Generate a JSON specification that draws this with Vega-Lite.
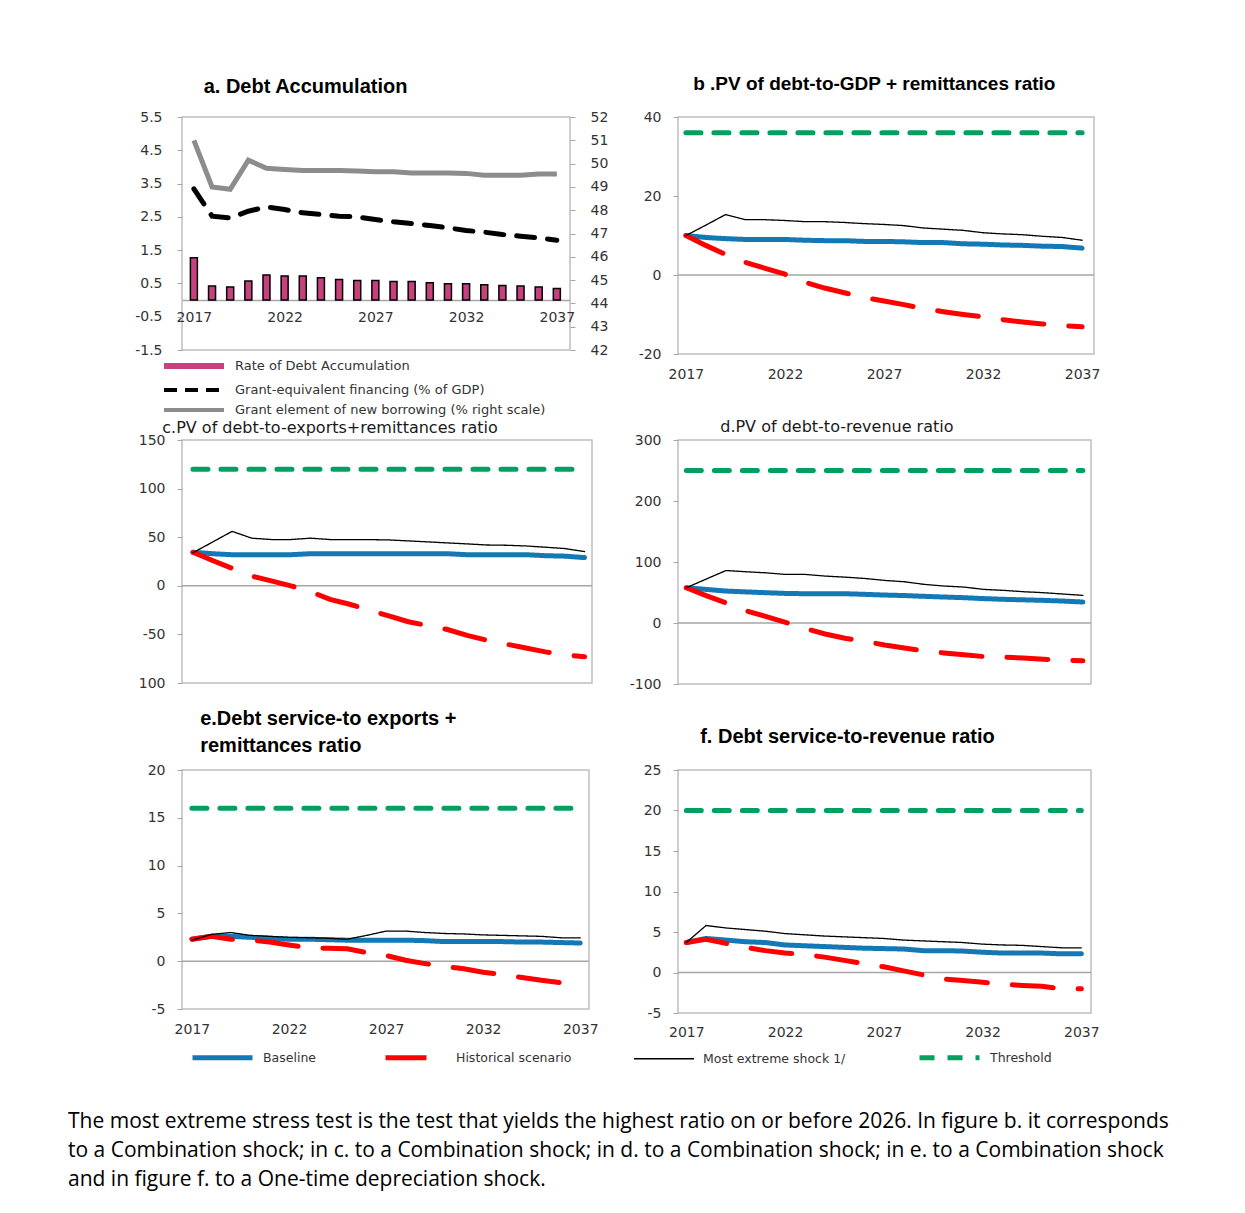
{
  "$schema": "https://vega.github.io/schema/vega-lite/v6.json",
  "background": "white",
  "padding": {"left": 68, "top": 74, "right": 0, "bottom": 12},
  "autosize": {"type": "pad"},
  "columns": 2,
  "spacing": {"row": 86, "column": 86},
  "bounds": "flush",
  "align": "each",
  "resolve": {
    "scale": {"color": "independent", "strokeDash": "independent", "strokeWidth": "independent"},
    "legend": {"color": "independent", "strokeDash": "independent", "strokeWidth": "independent"}
  },
  "title": {
    "text": [
      "The most extreme stress test is the test that yields the highest ratio on or before 2026. In figure b. it corresponds",
      "to a Combination shock; in c. to a Combination shock; in d. to a Combination shock; in e. to a Combination shock",
      "and in figure f. to a One-time depreciation shock."
    ],
    "orient": "bottom", "anchor": "start", "frame": "group", "dx": -114, "offset": 42,
    "font": "Open Sans", "fontSize": 21, "fontWeight": "normal", "lineHeight": 29, "color": "black", "baseline": "top"
  },
  "datasets": {
    "a": [
      {"year": 2017, "rate": 1.27, "gef": 3.34, "ge": 51.0},
      {"year": 2018, "rate": 0.42, "gef": 2.52, "ge": 49.0},
      {"year": 2019, "rate": 0.39, "gef": 2.47, "ge": 48.9},
      {"year": 2020, "rate": 0.57, "gef": 2.67, "ge": 50.15},
      {"year": 2021, "rate": 0.75, "gef": 2.80, "ge": 49.8},
      {"year": 2022, "rate": 0.72, "gef": 2.72, "ge": 49.75},
      {"year": 2023, "rate": 0.72, "gef": 2.62, "ge": 49.7},
      {"year": 2024, "rate": 0.67, "gef": 2.57, "ge": 49.7},
      {"year": 2025, "rate": 0.62, "gef": 2.52, "ge": 49.7},
      {"year": 2026, "rate": 0.59, "gef": 2.50, "ge": 49.68},
      {"year": 2027, "rate": 0.59, "gef": 2.42, "ge": 49.65},
      {"year": 2028, "rate": 0.56, "gef": 2.35, "ge": 49.65},
      {"year": 2029, "rate": 0.56, "gef": 2.30, "ge": 49.6},
      {"year": 2030, "rate": 0.52, "gef": 2.24, "ge": 49.6},
      {"year": 2031, "rate": 0.49, "gef": 2.17, "ge": 49.6},
      {"year": 2032, "rate": 0.49, "gef": 2.09, "ge": 49.58},
      {"year": 2033, "rate": 0.46, "gef": 2.04, "ge": 49.5},
      {"year": 2034, "rate": 0.44, "gef": 1.97, "ge": 49.5},
      {"year": 2035, "rate": 0.42, "gef": 1.92, "ge": 49.5},
      {"year": 2036, "rate": 0.39, "gef": 1.87, "ge": 49.55},
      {"year": 2037, "rate": 0.35, "gef": 1.80, "ge": 49.55}
    ],
    "b": [
      {"year": 2017, "bl": 10.0, "hs": 10.0, "me": 10.0, "th": 36},
      {"year": 2018, "bl": 9.5, "hs": 7.5, "me": 12.6, "th": 36},
      {"year": 2019, "bl": 9.2, "hs": 5.2, "me": 15.3, "th": 36},
      {"year": 2020, "bl": 9.0, "hs": 3.2, "me": 14.0, "th": 36},
      {"year": 2021, "bl": 9.0, "hs": 1.7, "me": 14.0, "th": 36},
      {"year": 2022, "bl": 9.0, "hs": 0.2, "me": 13.8, "th": 36},
      {"year": 2023, "bl": 8.8, "hs": -1.8, "me": 13.5, "th": 36},
      {"year": 2024, "bl": 8.7, "hs": -3.3, "me": 13.5, "th": 36},
      {"year": 2025, "bl": 8.7, "hs": -4.5, "me": 13.3, "th": 36},
      {"year": 2026, "bl": 8.5, "hs": -5.7, "me": 13.0, "th": 36},
      {"year": 2027, "bl": 8.5, "hs": -6.6, "me": 12.8, "th": 36},
      {"year": 2028, "bl": 8.4, "hs": -7.5, "me": 12.5, "th": 36},
      {"year": 2029, "bl": 8.2, "hs": -8.5, "me": 11.9, "th": 36},
      {"year": 2030, "bl": 8.2, "hs": -9.3, "me": 11.6, "th": 36},
      {"year": 2031, "bl": 7.9, "hs": -10.0, "me": 11.3, "th": 36},
      {"year": 2032, "bl": 7.8, "hs": -10.6, "me": 10.7, "th": 36},
      {"year": 2033, "bl": 7.6, "hs": -11.3, "me": 10.4, "th": 36},
      {"year": 2034, "bl": 7.5, "hs": -11.9, "me": 10.2, "th": 36},
      {"year": 2035, "bl": 7.3, "hs": -12.4, "me": 9.8, "th": 36},
      {"year": 2036, "bl": 7.2, "hs": -12.8, "me": 9.5, "th": 36},
      {"year": 2037, "bl": 6.8, "hs": -13.1, "me": 8.8, "th": 36}
    ],
    "c": [
      {"year": 2017, "bl": 34.5, "hs": 34.5, "me": 34.0, "th": 120},
      {"year": 2018, "bl": 33.0, "hs": 26.0, "me": 45.0, "th": 120},
      {"year": 2019, "bl": 32.0, "hs": 18.0, "me": 56.0, "th": 120},
      {"year": 2020, "bl": 32.0, "hs": 10.0, "me": 49.0, "th": 120},
      {"year": 2021, "bl": 32.0, "hs": 5.0, "me": 47.6, "th": 120},
      {"year": 2022, "bl": 32.0, "hs": 0.0, "me": 47.6, "th": 120},
      {"year": 2023, "bl": 33.0, "hs": -6.0, "me": 49.0, "th": 120},
      {"year": 2024, "bl": 33.0, "hs": -14.0, "me": 47.6, "th": 120},
      {"year": 2025, "bl": 33.0, "hs": -19.0, "me": 47.6, "th": 120},
      {"year": 2026, "bl": 33.0, "hs": -25.0, "me": 47.5, "th": 120},
      {"year": 2027, "bl": 33.0, "hs": -31.0, "me": 47.2, "th": 120},
      {"year": 2028, "bl": 33.0, "hs": -37.0, "me": 46.2, "th": 120},
      {"year": 2029, "bl": 33.0, "hs": -41.0, "me": 45.2, "th": 120},
      {"year": 2030, "bl": 33.0, "hs": -45.0, "me": 44.1, "th": 120},
      {"year": 2031, "bl": 32.0, "hs": -51.0, "me": 43.1, "th": 120},
      {"year": 2032, "bl": 32.0, "hs": -56.0, "me": 42.0, "th": 120},
      {"year": 2033, "bl": 32.0, "hs": -60.0, "me": 41.7, "th": 120},
      {"year": 2034, "bl": 32.0, "hs": -64.0, "me": 41.0, "th": 120},
      {"year": 2035, "bl": 31.0, "hs": -68.0, "me": 39.7, "th": 120},
      {"year": 2036, "bl": 30.5, "hs": -71.0, "me": 38.3, "th": 120},
      {"year": 2037, "bl": 29.0, "hs": -73.0, "me": 35.2, "th": 120}
    ],
    "d": [
      {"year": 2017, "bl": 57.8, "hs": 57.8, "me": 57.8, "th": 250},
      {"year": 2018, "bl": 55.0, "hs": 45.0, "me": 72.0, "th": 250},
      {"year": 2019, "bl": 52.4, "hs": 33.0, "me": 86.0, "th": 250},
      {"year": 2020, "bl": 51.0, "hs": 20.0, "me": 84.0, "th": 250},
      {"year": 2021, "bl": 49.7, "hs": 11.0, "me": 82.3, "th": 250},
      {"year": 2022, "bl": 48.5, "hs": 1.0, "me": 79.6, "th": 250},
      {"year": 2023, "bl": 48.0, "hs": -9.0, "me": 79.6, "th": 250},
      {"year": 2024, "bl": 48.0, "hs": -18.0, "me": 76.9, "th": 250},
      {"year": 2025, "bl": 48.0, "hs": -25.0, "me": 75.2, "th": 250},
      {"year": 2026, "bl": 47.0, "hs": -30.0, "me": 73.0, "th": 250},
      {"year": 2027, "bl": 45.8, "hs": -36.0, "me": 69.8, "th": 250},
      {"year": 2028, "bl": 45.0, "hs": -41.0, "me": 67.6, "th": 250},
      {"year": 2029, "bl": 43.7, "hs": -46.0, "me": 63.3, "th": 250},
      {"year": 2030, "bl": 42.6, "hs": -49.0, "me": 60.6, "th": 250},
      {"year": 2031, "bl": 41.5, "hs": -52.0, "me": 58.9, "th": 250},
      {"year": 2032, "bl": 40.0, "hs": -55.0, "me": 55.1, "th": 250},
      {"year": 2033, "bl": 38.8, "hs": -56.0, "me": 53.5, "th": 250},
      {"year": 2034, "bl": 38.0, "hs": -57.5, "me": 51.3, "th": 250},
      {"year": 2035, "bl": 37.1, "hs": -59.5, "me": 49.7, "th": 250},
      {"year": 2036, "bl": 36.0, "hs": -61.0, "me": 47.5, "th": 250},
      {"year": 2037, "bl": 34.4, "hs": -62.0, "me": 45.3, "th": 250}
    ],
    "e": [
      {"year": 2017, "bl": 2.3, "hs": 2.3, "me": 2.2, "th": 16},
      {"year": 2018, "bl": 2.6, "hs": 2.6, "me": 2.8, "th": 16},
      {"year": 2019, "bl": 2.6, "hs": 2.3, "me": 3.0, "th": 16},
      {"year": 2020, "bl": 2.5, "hs": 2.2, "me": 2.7, "th": 16},
      {"year": 2021, "bl": 2.4, "hs": 2.0, "me": 2.6, "th": 16},
      {"year": 2022, "bl": 2.3, "hs": 1.7, "me": 2.5, "th": 16},
      {"year": 2023, "bl": 2.3, "hs": 1.4, "me": 2.45, "th": 16},
      {"year": 2024, "bl": 2.25, "hs": 1.35, "me": 2.4, "th": 16},
      {"year": 2025, "bl": 2.2, "hs": 1.3, "me": 2.3, "th": 16},
      {"year": 2026, "bl": 2.2, "hs": 0.9, "me": 2.7, "th": 16},
      {"year": 2027, "bl": 2.2, "hs": 0.6, "me": 3.15, "th": 16},
      {"year": 2028, "bl": 2.2, "hs": 0.1, "me": 3.15, "th": 16},
      {"year": 2029, "bl": 2.15, "hs": -0.25, "me": 3.0, "th": 16},
      {"year": 2030, "bl": 2.05, "hs": -0.55, "me": 2.9, "th": 16},
      {"year": 2031, "bl": 2.05, "hs": -0.8, "me": 2.85, "th": 16},
      {"year": 2032, "bl": 2.05, "hs": -1.15, "me": 2.75, "th": 16},
      {"year": 2033, "bl": 2.05, "hs": -1.4, "me": 2.7, "th": 16},
      {"year": 2034, "bl": 2.0, "hs": -1.7, "me": 2.65, "th": 16},
      {"year": 2035, "bl": 2.0, "hs": -2.0, "me": 2.6, "th": 16},
      {"year": 2036, "bl": 1.95, "hs": -2.25, "me": 2.45, "th": 16},
      {"year": 2037, "bl": 1.9, "hs": -2.5, "me": 2.45, "th": 16}
    ],
    "f": [
      {"year": 2017, "bl": 3.7, "hs": 3.7, "me": 3.7, "th": 20},
      {"year": 2018, "bl": 4.2, "hs": 4.1, "me": 5.8, "th": 20},
      {"year": 2019, "bl": 4.0, "hs": 3.6, "me": 5.5, "th": 20},
      {"year": 2020, "bl": 3.8, "hs": 3.1, "me": 5.3, "th": 20},
      {"year": 2021, "bl": 3.7, "hs": 2.7, "me": 5.1, "th": 20},
      {"year": 2022, "bl": 3.4, "hs": 2.4, "me": 4.8, "th": 20},
      {"year": 2023, "bl": 3.3, "hs": 2.2, "me": 4.65, "th": 20},
      {"year": 2024, "bl": 3.2, "hs": 1.9, "me": 4.5, "th": 20},
      {"year": 2025, "bl": 3.1, "hs": 1.5, "me": 4.4, "th": 20},
      {"year": 2026, "bl": 3.0, "hs": 1.1, "me": 4.3, "th": 20},
      {"year": 2027, "bl": 2.95, "hs": 0.7, "me": 4.2, "th": 20},
      {"year": 2028, "bl": 2.9, "hs": 0.2, "me": 4.0, "th": 20},
      {"year": 2029, "bl": 2.7, "hs": -0.3, "me": 3.9, "th": 20},
      {"year": 2030, "bl": 2.7, "hs": -0.8, "me": 3.8, "th": 20},
      {"year": 2031, "bl": 2.65, "hs": -1.0, "me": 3.7, "th": 20},
      {"year": 2032, "bl": 2.5, "hs": -1.2, "me": 3.5, "th": 20},
      {"year": 2033, "bl": 2.4, "hs": -1.45, "me": 3.4, "th": 20},
      {"year": 2034, "bl": 2.4, "hs": -1.6, "me": 3.35, "th": 20},
      {"year": 2035, "bl": 2.4, "hs": -1.7, "me": 3.2, "th": 20},
      {"year": 2036, "bl": 2.3, "hs": -2.0, "me": 3.05, "th": 20},
      {"year": 2037, "bl": 2.3, "hs": -2.0, "me": 3.05, "th": 20}
    ],
    "zero": [{"zero": 0}]
  },
  "concat": [
    {
      "width": 388, "height": 233,
      "data": {"name": "a"},
      "title": {"text": "a. Debt Accumulation", "anchor": "start", "dx": 69, "offset": -3, "baseline": "alphabetic", "font": "Liberation Sans", "fontSize": 20, "fontWeight": "bold", "color": "black"},
      "encoding": {
        "x": {"field": "year", "type": "quantitative", "scale": {"domain": [2016.62, 2037.45], "nice": false, "zero": false},
          "axis": {"values": [2017, 2022, 2027, 2032, 2037], "format": "d", "offset": -50, "domain": true, "domainColor": "#a6a6a6", "domainWidth": 1.5, "ticks": false, "labelPadding": 10, "title": null}}
      },
      "layer": [
        {
          "mark": {"type": "bar", "width": 7, "fill": "#c8417f", "stroke": "black", "strokeWidth": 1.5},
          "encoding": {
            "y": {"field": "rate", "type": "quantitative", "scale": {"domain": [-1.5, 5.5], "nice": false},
              "axis": {"values": [5.5, 4.5, 3.5, 2.5, 1.5, 0.5, -0.5, -1.5], "labelExpr": "'' + datum.value", "title": null, "labelPadding": 15}}
          }
        },
        {
          "mark": {"type": "line", "strokeCap": "round", "strokeDash": [18, 13], "strokeWidth": 5, "color": "#000000"},
          "encoding": {
            "y": {"field": "gef", "type": "quantitative", "scale": {"domain": [-1.5, 5.5], "nice": false}, "axis": null}
          }
        },
        {
          "mark": {"type": "line", "strokeWidth": 5, "color": "#8c8c8c"},
          "encoding": {
            "y": {"field": "ge", "type": "quantitative", "scale": {"domain": [42, 52], "nice": false},
              "axis": {"orient": "right", "values": [42, 43, 44, 45, 46, 47, 48, 49, 50, 51, 52], "title": null, "labelPadding": 15}}
          }
        },
        {
          "transform": [{"fold": ["rate", "gef", "ge"], "as": ["series", "value"]}],
          "mark": {"type": "line", "opacity": 0},
          "encoding": {
            "y": {"field": "value", "type": "quantitative", "scale": {"zero": false}, "axis": null},
            "color": {"field": "series", "type": "nominal", "scale": {"domain": ["rate", "gef", "ge"], "range": ["#c8417f", "#000000", "#8c8c8c"]},
              "legend": {"orient": "none", "legendX": -1, "legendY": 236, "title": null, "symbolType": "M-3,0H3", "symbolSize": 400, "symbolOpacity": 1, "labelFont": "DejaVu Sans", "labelFontSize": 13, "labelColor": "#333333", "labelOffset": 28, "rowPadding": -6, "labelLimit": 500,
                "labelExpr": "datum.label == 'rate' ? 'Rate of Debt Accumulation' : datum.label == 'gef' ? 'Grant-equivalent financing (% of GDP)' : 'Grant element of new borrowing (% right scale)'"}},
            "strokeDash": {"field": "series", "type": "nominal", "scale": {"domain": ["rate", "gef", "ge"], "range": [[1, 0], [13, 8], [1, 0]]},
              "legend": {"orient": "none", "legendX": -1, "legendY": 236, "title": null, "symbolType": "M-3,0H3", "symbolSize": 400, "symbolOpacity": 1, "labelFont": "DejaVu Sans", "labelFontSize": 13, "labelColor": "#333333", "labelOffset": 28, "rowPadding": -6, "labelLimit": 500,
                "labelExpr": "datum.label == 'rate' ? 'Rate of Debt Accumulation' : datum.label == 'gef' ? 'Grant-equivalent financing (% of GDP)' : 'Grant element of new borrowing (% right scale)'"}},
            "strokeWidth": {"field": "series", "type": "nominal", "scale": {"type": "ordinal", "domain": ["rate", "gef", "ge"], "range": [6, 4, 4]},
              "legend": {"orient": "none", "legendX": -1, "legendY": 236, "title": null, "symbolType": "M-3,0H3", "symbolSize": 400, "symbolOpacity": 1, "labelFont": "DejaVu Sans", "labelFontSize": 13, "labelColor": "#333333", "labelOffset": 28, "rowPadding": -6, "labelLimit": 500,
                "labelExpr": "datum.label == 'rate' ? 'Rate of Debt Accumulation' : datum.label == 'gef' ? 'Grant-equivalent financing (% of GDP)' : 'Grant element of new borrowing (% right scale)'"}}
          }
        }
      ],
      "resolve": {"scale": {"y": "independent"}}
    },
    {
      "width": 416, "height": 237,
      "title": {"text": "b .PV of debt-to-GDP + remittances ratio", "anchor": "start", "dx": 55, "offset": 1, "baseline": "alphabetic", "font": "Liberation Sans", "fontSize": 19, "fontWeight": "bold", "color": "black"},
      "layer": [
        {"data": {"name": "zero"}, "mark": {"type": "rule", "color": "#a6a6a6", "strokeWidth": 1.5}, "encoding": {"y": {"field": "zero", "type": "quantitative"}}},
        {
          "data": {"name": "b"},
          "transform": [{"fold": ["bl", "hs", "me", "th"], "as": ["series", "value"]}],
          "mark": {"type": "line", "strokeCap": "round"},
          "encoding": {
            "x": {"field": "year", "type": "quantitative", "scale": {"domain": [2016.6, 2037.6], "nice": false, "zero": false},
              "axis": {"values": [2017, 2022, 2027, 2032, 2037], "format": "d", "ticks": false, "labelPadding": 13, "title": null}},
            "y": {"field": "value", "type": "quantitative", "scale": {"domain": [-20, 40], "nice": false},
              "axis": {"values": [-20, -10, 0, 10, 20, 30, 40], "labelExpr": "'' + datum.value", "title": null}},
            "color": {"field": "series", "type": "nominal", "scale": {"domain": ["bl", "hs", "me", "th"], "range": ["#1478b4", "#ff0000", "#000000", "#00a060"]}, "legend": null},
            "strokeDash": {"field": "series", "type": "nominal", "scale": {"domain": ["bl", "hs", "me", "th"], "range": [[1, 0], [41, 25], [1, 0], [15, 13]]}, "legend": null},
            "strokeWidth": {"field": "series", "type": "nominal", "scale": {"type": "ordinal", "domain": ["bl", "hs", "me", "th"], "range": [5, 5, 1.3, 5]}, "legend": null}
          }
        }
      ]
    },
    {
      "width": 410, "height": 243,
      "title": {"text": "c.PV of debt-to-exports+remittances  ratio", "anchor": "start", "dx": 24, "offset": -16, "baseline": "alphabetic", "font": "DejaVu Sans", "fontSize": 16, "fontWeight": "normal", "color": "#1a1a1a"},
      "layer": [
        {"data": {"name": "zero"}, "mark": {"type": "rule", "color": "#a6a6a6", "strokeWidth": 1.5}, "encoding": {"y": {"field": "zero", "type": "quantitative"}}},
        {
          "data": {"name": "c"},
          "transform": [{"fold": ["bl", "hs", "me", "th"], "as": ["series", "value"]}],
          "mark": {"type": "line", "strokeCap": "round"},
          "encoding": {
            "x": {"field": "year", "type": "quantitative", "scale": {"domain": [2016.44, 2037.38], "nice": false, "zero": false}, "axis": null},
            "y": {"field": "value", "type": "quantitative", "scale": {"domain": [-100, 150], "nice": false},
              "axis": {"values": [-100, -50, 0, 50, 100, 150], "labelExpr": "datum.value == -100 ? '100' : '' + datum.value", "title": null}},
            "color": {"field": "series", "type": "nominal", "scale": {"domain": ["bl", "hs", "me", "th"], "range": ["#1478b4", "#ff0000", "#000000", "#00a060"]}, "legend": null},
            "strokeDash": {"field": "series", "type": "nominal", "scale": {"domain": ["bl", "hs", "me", "th"], "range": [[1, 0], [41, 25], [1, 0], [15, 13]]}, "legend": null},
            "strokeWidth": {"field": "series", "type": "nominal", "scale": {"type": "ordinal", "domain": ["bl", "hs", "me", "th"], "range": [5, 5, 1.3, 5]}, "legend": null}
          }
        }
      ]
    },
    {
      "width": 413, "height": 244,
      "title": {"text": "d.PV of debt-to-revenue  ratio", "anchor": "start", "dx": 91, "offset": -15, "baseline": "alphabetic", "font": "DejaVu Sans", "fontSize": 16, "fontWeight": "normal", "color": "#1a1a1a"},
      "layer": [
        {"data": {"name": "zero"}, "mark": {"type": "rule", "color": "#a6a6a6", "strokeWidth": 1.5}, "encoding": {"y": {"field": "zero", "type": "quantitative"}}},
        {
          "data": {"name": "d"},
          "transform": [{"fold": ["bl", "hs", "me", "th"], "as": ["series", "value"]}],
          "mark": {"type": "line", "strokeCap": "round"},
          "encoding": {
            "x": {"field": "year", "type": "quantitative", "scale": {"domain": [2016.58, 2037.41], "nice": false, "zero": false}, "axis": null},
            "y": {"field": "value", "type": "quantitative", "scale": {"domain": [-100, 300], "nice": false},
              "axis": {"values": [-100, -50, 0, 50, 100, 150, 200, 250, 300], "labelExpr": "'' + datum.value", "title": null}},
            "color": {"field": "series", "type": "nominal", "scale": {"domain": ["bl", "hs", "me", "th"], "range": ["#1478b4", "#ff0000", "#000000", "#00a060"]}, "legend": null},
            "strokeDash": {"field": "series", "type": "nominal", "scale": {"domain": ["bl", "hs", "me", "th"], "range": [[1, 0], [41, 25], [1, 0], [15, 13]]}, "legend": null},
            "strokeWidth": {"field": "series", "type": "nominal", "scale": {"type": "ordinal", "domain": ["bl", "hs", "me", "th"], "range": [5, 5, 1.3, 5]}, "legend": null}
          }
        }
      ]
    },
    {
      "width": 407, "height": 239,
      "title": {"text": ["e.Debt service-to exports +", "remittances ratio"], "anchor": "start", "dx": 53, "offset": -9, "baseline": "alphabetic", "lineHeight": 27, "font": "Liberation Sans", "fontSize": 20, "fontWeight": "bold", "color": "black"},
      "layer": [
        {"data": {"name": "zero"}, "mark": {"type": "rule", "color": "#a6a6a6", "strokeWidth": 1.5}, "encoding": {"y": {"field": "zero", "type": "quantitative"}}},
        {
          "data": {"name": "e"},
          "transform": [{"fold": ["bl", "hs", "me", "th"], "as": ["series", "value"]}],
          "mark": {"type": "line", "strokeCap": "round"},
          "encoding": {
            "x": {"field": "year", "type": "quantitative", "scale": {"domain": [2016.49, 2037.45], "nice": false, "zero": false},
              "axis": {"values": [2017, 2022, 2027, 2032, 2037], "format": "d", "ticks": false, "labelPadding": 13, "title": null}},
            "y": {"field": "value", "type": "quantitative", "scale": {"domain": [-5, 20], "nice": false},
              "axis": {"values": [-5, 0, 5, 10, 15, 20], "labelExpr": "'' + datum.value", "title": null}},
            "color": {"field": "series", "type": "nominal", "scale": {"domain": ["bl", "hs", "me", "th"], "range": ["#1478b4", "#ff0000", "#000000", "#00a060"]},
              "legend": {"orient": "none", "legendX": 28, "legendY": 275, "direction": "horizontal", "title": null, "symbolType": "M-3,0H3", "symbolSize": 400, "columnPadding": 59, "labelOffset": 28, "labelFont": "DejaVu Sans", "labelFontSize": 12.5, "labelColor": "#333333", "labelLimit": 400,
                "labelExpr": "datum.label == 'bl' ? 'Baseline' : datum.label == 'hs' ? 'Historical scenario' : datum.label == 'me' ? 'Most extreme shock  1/' : 'Threshold'"}},
            "strokeDash": {"field": "series", "type": "nominal", "scale": {"domain": ["bl", "hs", "me", "th"], "range": [[1, 0], [41, 25], [1, 0], [15, 13]]},
              "legend": {"orient": "none", "legendX": 28, "legendY": 275, "direction": "horizontal", "title": null, "symbolType": "M-3,0H3", "symbolSize": 400, "columnPadding": 59, "labelOffset": 28, "labelFont": "DejaVu Sans", "labelFontSize": 12.5, "labelColor": "#333333", "labelLimit": 400,
                "labelExpr": "datum.label == 'bl' ? 'Baseline' : datum.label == 'hs' ? 'Historical scenario' : datum.label == 'me' ? 'Most extreme shock  1/' : 'Threshold'"}},
            "strokeWidth": {"field": "series", "type": "nominal", "scale": {"type": "ordinal", "domain": ["bl", "hs", "me", "th"], "range": [5, 5, 1.3, 5]},
              "legend": {"orient": "none", "legendX": 28, "legendY": 275, "direction": "horizontal", "title": null, "symbolType": "M-3,0H3", "symbolSize": 400, "columnPadding": 59, "labelOffset": 28, "labelFont": "DejaVu Sans", "labelFontSize": 12.5, "labelColor": "#333333", "labelLimit": 400,
                "labelExpr": "datum.label == 'bl' ? 'Baseline' : datum.label == 'hs' ? 'Historical scenario' : datum.label == 'me' ? 'Most extreme shock  1/' : 'Threshold'"}}
          }
        }
      ]
    },
    {
      "width": 413, "height": 243,
      "title": {"text": "f. Debt service-to-revenue ratio", "anchor": "start", "dx": 57, "offset": 0, "baseline": "alphabetic", "font": "Liberation Sans", "fontSize": 20, "fontWeight": "bold", "color": "black"},
      "layer": [
        {"data": {"name": "zero"}, "mark": {"type": "rule", "color": "#a6a6a6", "strokeWidth": 1.5}, "encoding": {"y": {"field": "zero", "type": "quantitative"}}},
        {
          "data": {"name": "f"},
          "transform": [{"fold": ["bl", "hs", "me", "th"], "as": ["series", "value"]}],
          "mark": {"type": "line", "strokeCap": "round"},
          "encoding": {
            "x": {"field": "year", "type": "quantitative", "scale": {"domain": [2016.58, 2037.49], "nice": false, "zero": false},
              "axis": {"values": [2017, 2022, 2027, 2032, 2037], "format": "d", "ticks": false, "labelPadding": 12, "title": null}},
            "y": {"field": "value", "type": "quantitative", "scale": {"domain": [-5, 25], "nice": false},
              "axis": {"values": [-5, 0, 5, 10, 15, 20, 25], "labelExpr": "'' + datum.value", "title": null}},
            "color": {"field": "series", "type": "nominal", "scale": {"domain": ["bl", "hs", "me", "th"], "range": ["#1478b4", "#ff0000", "#000000", "#00a060"]}, "legend": null},
            "strokeDash": {"field": "series", "type": "nominal", "scale": {"domain": ["bl", "hs", "me", "th"], "range": [[1, 0], [41, 25], [1, 0], [15, 13]]}, "legend": null},
            "strokeWidth": {"field": "series", "type": "nominal", "scale": {"type": "ordinal", "domain": ["bl", "hs", "me", "th"], "range": [5, 5, 1.3, 5]}, "legend": null}
          }
        }
      ]
    }
  ],
  "config": {
    "view": {"stroke": "#bfbfbf", "strokeWidth": 1.5},
    "axis": {"labelFont": "DejaVu Sans", "labelFontSize": 14, "labelColor": "#333333", "tickColor": "#a6a6a6", "tickSize": 5, "domain": false, "grid": false, "labelPadding": 12}
  }
}
